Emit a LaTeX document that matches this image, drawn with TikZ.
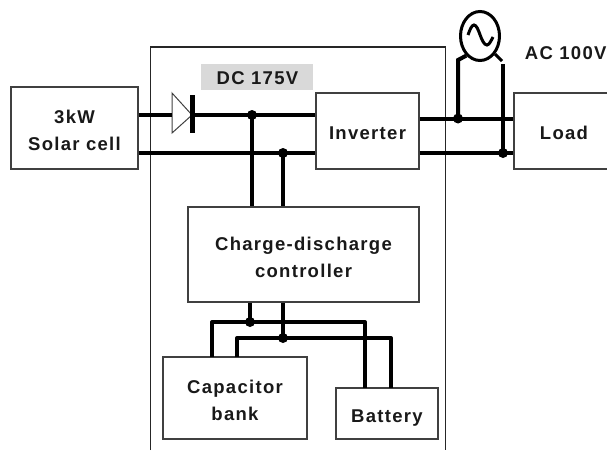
\documentclass[tikz,border=0pt]{standalone}
\usepackage{fontspec}
\setmainfont{Liberation Sans}[LetterSpace=7]
\usetikzlibrary{shapes.geometric}
\tikzset{
	box/.style={draw=black!75,line width=1.2pt,fill=white,inner sep=0pt},
	boxtext/.style={align=center,font=\fontsize{18.5}{27}\selectfont\bfseries,text=black!90},
	tag/.style={font=\fontsize{18.5}{20}\selectfont\bfseries,text=black!90},
	wire/.style={line width=4pt},
	frame/.style={draw=black!85,line width=1.2pt},
	dot/.style={circle,fill=black,inner sep=0pt,minimum size=10pt}
}
\begin{document}
\begin{tikzpicture}[x=1pt,y=-1pt]
		\useasboundingbox (0,0) rectangle (607,450);
		
		\draw[frame] (150.5,450) -- (150.5,47) -- (445.5,47) -- (445.5,450);
		
		\fill[black!15] (201,64) rectangle (313,90);
		\node[tag] (dclabel) at (257.5,78) {DC 175V};
		\node[tag,anchor=east] (aclabel) at (610,53) {AC 100V};
		
		\node[box,minimum width=127pt,minimum height=82pt,label={[boxtext,yshift=-2pt]center:3kW\\Solar cell}] (solar) at (74.5,128) {};
		\node[box,minimum width=103pt,minimum height=76pt,label={[boxtext,yshift=-2pt]center:Inverter}] (inverter) at (367.5,131) {};
		\node[box,minimum width=100pt,minimum height=76pt,label={[boxtext,yshift=-2pt]center:Load}] (load) at (564,131) {};
		\node[box,minimum width=231pt,minimum height=95pt,label={[boxtext,yshift=-3pt]center:Charge-discharge\\controller}] (controller) at (303.5,254.5) {};
		\node[box,minimum width=144pt,minimum height=82pt,label={[boxtext,yshift=-2pt]center:Capacitor\\bank}] (capacitor) at (235,398) {};
		\node[box,minimum width=102pt,minimum height=51pt,label={[boxtext,yshift=-5pt]center:Battery}] (battery) at (387,413.5) {};
		\node[draw,ellipse,line width=3pt,inner sep=0pt,minimum width=39pt,minimum height=49pt] (source) at (480,36) {};
		
		\coordinate (dplus) at (252,115);
		\coordinate (dminus) at (283,153);
		\coordinate (acplus) at (458,118.5);
		\coordinate (acminus) at (503,153);
		\coordinate (bplus) at (250,322);
		\coordinate (bminus) at (283,338);
		\coordinate (diodein) at (172,115);
		\coordinate (diodeout) at (192,115);
		
		% diode
		\draw[line width=1pt,draw=black!75] (172,93) -- (diodeout) -- (172,133) -- cycle;
		\draw[line width=4.5pt] (192.5,95) -- (192.5,133);
		
		% dc side
		\draw[wire] (solar.east |- diodein) -- (diodein);
		\draw[wire] (diodeout) -- (inverter.west |- diodeout);
		\draw[wire] (solar.east |- dminus) -- (inverter.west |- dminus);
		\draw[wire] (dplus) -- (dplus |- controller.north);
		\draw[wire] (dminus) -- (dminus |- controller.north);
		
		% ac side
		\draw[wire] (inverter.east |- acplus) -- (load.west |- acplus);
		\draw[wire] (inverter.east |- acminus) -- (load.west |- acminus);
		\draw[wire] (acplus) -- (458,60) -- (source.235);
		\draw[wire] (acminus) -- (503,64);
		\draw[line width=3pt] (source.-50) -- (502,61);
		\draw[line width=3pt] (468,35) .. controls (470,29) and (472,25) .. (474,25) .. controls (479,25) and (481,45) .. (487,45) .. controls (489,45) and (491,41) .. (493,37);
		
		% storage side
		\draw[wire] (bplus |- controller.south) -- (bplus);
		\draw[wire] (bminus |- controller.south) -- (bminus);
		\draw[wire,line join=round] (212,357) -- (212,322) -- (365,322) -- (365,388);
		\draw[wire,line join=round] (237,357) -- (237,338) -- (391,338) -- (391,388);
		
		\node[dot] (dotdplus) at (dplus) {};
		\node[dot] (dotdminus) at (dminus) {};
		\node[dot] (dotacplus) at (acplus) {};
		\node[dot] (dotacminus) at (acminus) {};
		\node[dot] (dotbplus) at (bplus) {};
		\node[dot] (dotbminus) at (bminus) {};
		\end{tikzpicture}
\end{document}
